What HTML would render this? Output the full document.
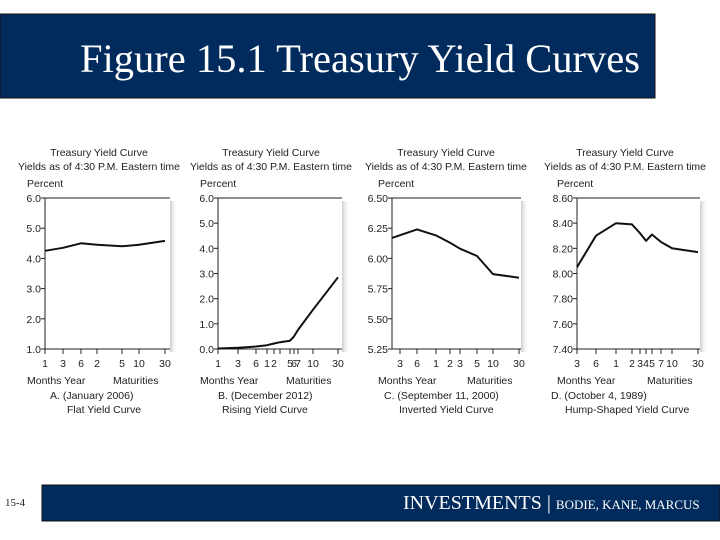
<!DOCTYPE html>
<html><head><meta charset="utf-8">
<style>
html,body{margin:0;padding:0;background:#fff;width:720px;height:540px;overflow:hidden}
svg{display:block}
.t{font-family:"Liberation Sans",sans-serif;font-size:10.5px;fill:#222}
</style></head>
<body>
<svg id="s" width="720" height="540" viewBox="0 0 720 540" xmlns="http://www.w3.org/2000/svg">
<defs>
<linearGradient id="sh" x1="0" x2="1" y1="0" y2="0"><stop offset="0" stop-color="#ccc"/><stop offset="1" stop-color="#fff" stop-opacity="0"/></linearGradient>
</defs>
<rect x="0" y="14" width="655" height="84" fill="#002b5c" stroke="#111" stroke-width="1"/>
<text x="360" y="72" text-anchor="middle" fill="#fff" font-family="Liberation Serif,serif" font-size="40" textLength="560" lengthAdjust="spacingAndGlyphs">Figure 15.1 Treasury Yield Curves</text>
<rect x="42" y="485" width="678" height="36" fill="#002b5c" stroke="#111"/>
<text x="5" y="506" font-family="Liberation Serif,serif" font-size="11" fill="#222">15-4</text>
<text x="403" y="509" fill="#fff" font-family="Liberation Serif,serif" font-size="20">INVESTMENTS <tspan font-size="20">|</tspan> <tspan font-size="13">BODIE, KANE, MARCUS</tspan></text>
<g id="charts"></g>
</svg>
<script>
// Panel A (January 2006) - maturities in months
const matA = [1, 3, 6, 24, 60, 120, 360];
const yldA = [4.25, 4.35, 4.5, 4.45, 4.4, 4.45, 4.58];
const tickA = ["1", "3", "6", "2", "5", "10", "30"];
const yTickA = [1.0, 2.0, 3.0, 4.0, 5.0, 6.0];
// Panel B (December 2012)
const matB = [1, 3, 6, 12, 24, 36, 60, 72, 84, 120, 360];
const yldB = [0.02, 0.05, 0.1, 0.15, 0.22, 0.27, 0.33, 0.5, 0.76, 1.56, 2.85];
const tickB = ["1", "3", "6", "1", "2", "", "5", "6", "7", "10", "30"];
const yTickB = [0.0, 1.0, 2.0, 3.0, 4.0, 5.0, 6.0];
// Panel C (September 11, 2000)
const matC = [1, 6, 12, 24, 36, 60, 120, 360];
const yldC = [6.17, 6.24, 6.19, 6.13, 6.08, 6.02, 5.87, 5.84];
const tickMatC = [3, 6, 12, 24, 36, 60, 120, 360];
const tickC = ["3", "6", "1", "2", "3", "5", "10", "30"];
const yTickC = [5.25, 5.50, 5.75, 6.00, 6.25, 6.50];
// Panel D (October 4, 1989)
const matD = [3, 6, 12, 24, 36, 48, 60, 84, 120, 180, 360];
const yldD = [8.05, 8.30, 8.40, 8.39, 8.32, 8.26, 8.31, 8.25, 8.20, 8.19, 8.17];
const tickMatD = [3, 6, 12, 24, 36, 48, 60, 84, 120, 360];
const tickD = ["3", "6", "1", "2", "3", "4", "5", "7", "10", "30"];
const yTickD = [7.40, 7.60, 7.80, 8.00, 8.20, 8.40, 8.60];

const NS = "http://www.w3.org/2000/svg";
const root = document.getElementById("charts");
function mk(tag, attrs, parent) {
  const e = document.createElementNS(NS, tag);
  for (const k in attrs) e.setAttribute(k, attrs[k]);
  (parent || root).appendChild(e);
  return e;
}
function piecewise(dom, rng) {
  return function (v) {
    if (v <= dom[0]) return rng[0];
    for (let i = 1; i < dom.length; i++) {
      if (v <= dom[i]) return rng[i - 1] + (v - dom[i - 1]) / (dom[i] - dom[i - 1]) * (rng[i] - rng[i - 1]);
    }
    return rng[rng.length - 1];
  };
}
function panel(cfg) {
  const g = mk("g", {});
  
  
  const L = cfg.left, R = cfg.right, T = 198, B = 349;
  const ys = v => B - (v - cfg.ymin) / (cfg.ymax - cfg.ymin) * (B - T);
  const xs = piecewise(cfg.xdom, cfg.xrng);
  const sh = mk("rect", { x: R, y: T + 3, width: 8, height: B - T, fill: "url(#sh)" }, g);
  
  
  const bx = mk("rect", { x: L, y: T, width: R - L, height: B - T, fill: "#fff" }, g);
  
  
  const tl = mk("line", { x1: L, y1: T, x2: R, y2: T, stroke: "#222", "stroke-width": 1 }, g);
  
  
  const ya = mk("line", { x1: L, y1: T, x2: L, y2: B, stroke: "#222", "stroke-width": 1 }, g);
  
  
  const xa = mk("line", { x1: L, y1: B, x2: R, y2: B, stroke: "#222", "stroke-width": 1 }, g);
  
  
  cfg.yticks.forEach(v => {
    const y = ys(v);
    const tk = mk("line", { x1: L - 4, y1: y, x2: L, y2: y, stroke: "#222" }, g);
    
    
    const t = mk("text", { x: L - 4, y: y + 4, "text-anchor": "end", class: "t" }, g);
    t.textContent = v.toFixed(cfg.dec);
    
    
  });
  cfg.tickMat.forEach((m, i) => {
    const x = xs(m);
    const tk = mk("line", { x1: x, y1: B, x2: x, y2: B + 5, stroke: "#222" }, g);
    
    
    if (cfg.tickLbl[i]) {
      const t = mk("text", { x: x, y: B + 18, "text-anchor": "middle", class: "t" }, g);
      t.textContent = cfg.tickLbl[i];
      
      
    }
  });
  const pts = cfg.mat.map((m, i) => xs(m).toFixed(1) + "," + ys(cfg.yld[i]).toFixed(1)).join(" ");
  const pl = mk("polyline", { points: pts, fill: "none", stroke: "#111", "stroke-width": 2, "stroke-linejoin": "round" }, g);
  
  
  const texts = [
    [cfg.cx, 156, "Treasury Yield Curve", "middle", "chart-title", 0],
    [cfg.cx, 170, "Yields as of 4:30 P.M. Eastern time", "middle", "chart-subtitle", 162],
    [cfg.px, 187, "Percent", "start", "y-axis-title", 0],
    [cfg.px, 384, "Months  Year", "start", "x-axis-units", 0],
    [cfg.mx, 384, "Maturities", "start", "x-axis-title", 0],
    [cfg.c1x, 399, cfg.c1, "start", "chart-date-caption", 0],
    [cfg.c2x, 413, cfg.c2, "start", "chart-shape-caption", 0]
  ];
  texts.forEach(a => {
    const at = { x: a[0], y: a[1], "text-anchor": a[3], class: "t" };
    if (a[5]) { at.textLength = a[5]; at.lengthAdjust = "spacingAndGlyphs"; }
    const t = mk("text", at, g);
    t.textContent = a[2];
    
    
  });
}
panel({ id: "panel-a-flat", left: 45, right: 170, ymin: 1, ymax: 6, dec: 1, yticks: yTickA,
  xdom: [1, 3, 6, 24, 60, 120, 360], xrng: [45, 63, 81, 97, 122, 139, 165],
  tickMat: matA, tickLbl: tickA, mat: matA, yld: yldA,
  cx: 99, px: 27, mx: 113, c1x: 50, c1: "A. (January 2006)", c2x: 67, c2: "Flat Yield Curve" });
panel({ id: "panel-b-rising", left: 218, right: 342, ymin: 0, ymax: 6, dec: 1, yticks: yTickB,
  xdom: [1, 3, 6, 12, 24, 36, 60, 72, 84, 120, 360], xrng: [218, 238, 256, 267, 274, 280, 290, 294, 298, 313, 338],
  tickMat: matB, tickLbl: tickB, mat: matB, yld: yldB,
  cx: 271, px: 200, mx: 286, c1x: 218, c1: "B. (December 2012)", c2x: 222, c2: "Rising Yield Curve" });
panel({ id: "panel-c-inverted", left: 392, right: 521, ymin: 5.25, ymax: 6.5, dec: 2, yticks: yTickC,
  xdom: [1, 3, 6, 12, 24, 36, 60, 120, 360], xrng: [392, 400, 417, 436, 450, 460, 477, 493, 519],
  tickMat: tickMatC, tickLbl: tickC, mat: matC, yld: yldC,
  cx: 446, px: 378, mx: 467, c1x: 384, c1: "C. (September 11, 2000)", c2x: 399, c2: "Inverted Yield Curve" });
panel({ id: "panel-d-hump", left: 577, right: 700, ymin: 7.4, ymax: 8.6, dec: 2, yticks: yTickD,
  xdom: [3, 6, 12, 24, 36, 48, 60, 84, 120, 180, 360], xrng: [577, 596, 616, 632, 640, 646, 652, 661, 672, 681, 698],
  tickMat: tickMatD, tickLbl: tickD, mat: matD, yld: yldD,
  cx: 625, px: 557, mx: 647, c1x: 551, c1: "D. (October 4, 1989)", c2x: 565, c2: "Hump-Shaped Yield Curve" });
</script>
</body></html>
